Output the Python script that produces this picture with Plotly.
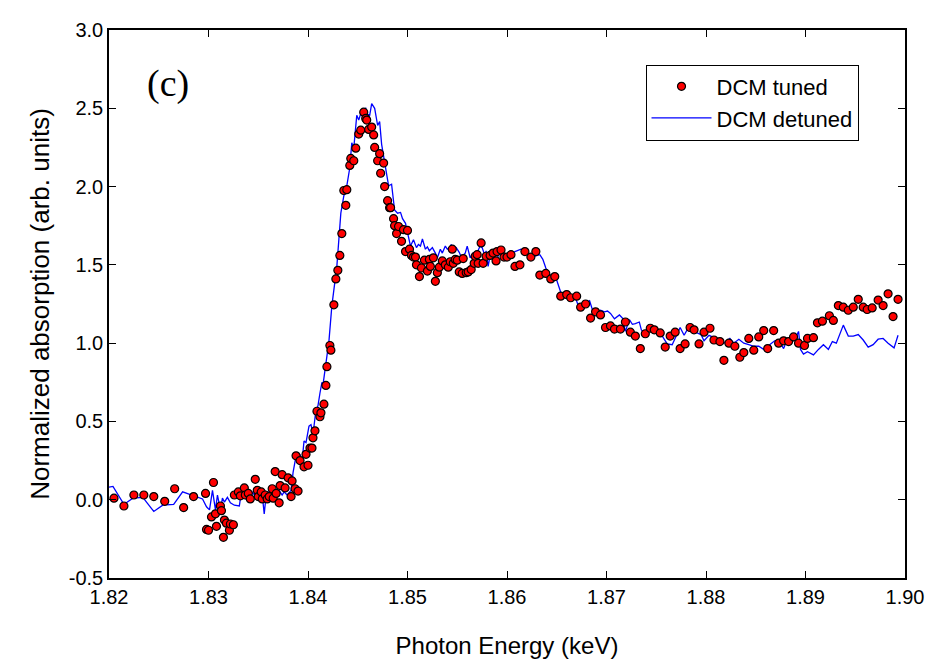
import plotly.graph_objects as go

tuned_x = [1.8205,1.8215,1.8225,1.8235,1.8245,1.8256,1.8266,1.8275,1.8285,1.8297,1.8298,1.8300,1.8303,1.8305,1.8307,1.8308,1.8312,1.8313,1.8315,1.8316,1.8318,1.8321,1.8322,1.8325,1.8326,1.8330,1.8332,1.8336,1.8337,1.8340,1.8342,1.8347,1.8349,1.8350,1.8353,1.8354,1.8357,1.8359,1.8361,1.8364,1.8365,1.8367,1.8368,1.8371,1.8372,1.8374,1.8377,1.8380,1.8383,1.8384,1.8387,1.8388,1.8390,1.8392,1.8396,1.8398,1.8400,1.8402,1.8404,1.8405,1.8407,1.8409,1.8412,1.8413,1.8416,1.8418,1.8419,1.8422,1.8423,1.8426,1.8428,1.8430,1.8432,1.8434,1.8436,1.8438,1.8439,1.8442,1.8443,1.8446,1.8448,1.8451,1.8453,1.8456,1.8458,1.8459,1.8461,1.8464,1.8466,1.8467,1.8470,1.8472,1.8473,1.8476,1.8477,1.8480,1.8482,1.8483,1.8486,1.8487,1.8489,1.8491,1.8494,1.8496,1.8498,1.8500,1.8502,1.8504,1.8506,1.8508,1.8509,1.8512,1.8514,1.8517,1.8520,1.8522,1.8523,1.8526,1.8528,1.8530,1.8532,1.8535,1.8538,1.8541,1.8543,1.8545,1.8546,1.8548,1.8550,1.8552,1.8555,1.8556,1.8559,1.8561,1.8564,1.8567,1.8568,1.8570,1.8571,1.8574,1.8576,1.8579,1.8583,1.8586,1.8589,1.8590,1.8594,1.8597,1.8600,1.8604,1.8608,1.8613,1.8618,1.8624,1.8629,1.8633,1.8639,1.8644,1.8648,1.8654,1.8660,1.8664,1.8670,1.8674,1.8679,1.8684,1.8689,1.8694,1.8699,1.8704,1.8708,1.8714,1.8719,1.8724,1.8729,1.8734,1.8739,1.8744,1.8748,1.8754,1.8759,1.8764,1.8769,1.8774,1.8779,1.8784,1.8788,1.8793,1.8798,1.8804,1.8808,1.8814,1.8818,1.8823,1.8829,1.8834,1.8838,1.8843,1.8848,1.8853,1.8858,1.8862,1.8868,1.8873,1.8878,1.8883,1.8888,1.8893,1.8899,1.8902,1.8908,1.8912,1.8917,1.8924,1.8928,1.8933,1.8938,1.8943,1.8948,1.8953,1.8958,1.8962,1.8967,1.8973,1.8978,1.8983,1.8988,1.8993]
tuned_y = [0.01,-0.04,0.03,0.03,0.02,-0.01,0.07,-0.05,0.02,0.04,-0.19,-0.195,-0.11,0.11,-0.09,-0.17,-0.04,-0.07,-0.24,-0.13,-0.15,-0.195,-0.155,-0.16,0.03,0.05,0.025,0.075,0.03,0.04,0.005,0.13,0.06,0.02,0.05,0.005,0.03,0.005,0.02,0.07,0.01,0.18,0.04,-0.02,0.09,0.16,0.075,0.14,0.02,0.12,0.07,0.28,0.055,0.25,0.21,0.29,0.22,0.33,0.33,0.395,0.44,0.565,0.53,0.555,0.61,0.73,0.85,0.985,0.955,1.245,1.41,1.465,1.56,1.70,1.975,1.88,1.98,2.135,2.18,2.165,2.245,2.335,2.36,2.475,2.435,2.425,2.365,2.38,2.33,2.25,2.165,2.21,2.085,2.15,2.00,1.91,1.865,1.865,1.795,1.75,1.70,1.745,1.65,1.725,1.585,1.72,1.60,1.56,1.55,1.55,1.50,1.425,1.48,1.53,1.46,1.535,1.49,1.545,1.395,1.45,1.485,1.525,1.50,1.485,1.52,1.60,1.51,1.535,1.53,1.455,1.445,1.54,1.45,1.455,1.47,1.51,1.555,1.565,1.51,1.64,1.51,1.555,1.56,1.575,1.525,1.585,1.595,1.55,1.55,1.565,1.49,1.50,1.585,1.55,1.585,1.435,1.445,1.41,1.425,1.30,1.31,1.29,1.30,1.23,1.25,1.16,1.20,1.18,1.10,1.11,1.09,1.09,1.135,1.07,1.045,0.965,1.06,1.095,1.085,1.065,0.975,1.045,1.07,0.965,0.995,1.10,1.085,0.995,1.07,1.095,1.02,1.01,0.89,1.00,0.98,0.91,0.94,1.03,0.955,1.04,1.08,0.965,1.08,1.00,1.015,1.01,1.04,1.00,0.985,1.03,1.035,1.13,1.14,1.175,1.145,1.24,1.23,1.21,1.23,1.28,1.23,1.215,1.225,1.275,1.24,1.315,1.17,1.28]

detuned_x = [1.8200,1.8204,1.8215,1.8224,1.8234,1.8245,1.8254,1.8265,1.8274,1.8284,1.8294,1.8298,1.8301,1.8304,1.8307,1.8309,1.8312,1.8314,1.8316,1.8319,1.8322,1.8326,1.8331,1.8333,1.8334,1.8336,1.8338,1.8339,1.8342,1.8344,1.8346,1.8348,1.8351,1.8354,1.8356,1.8358,1.8360,1.8363,1.8365,1.8368,1.8371,1.8374,1.8376,1.8379,1.8383,1.8385,1.8388,1.8390,1.8392,1.8394,1.8396,1.8398,1.8401,1.8403,1.8405,1.8408,1.8410,1.8412,1.8414,1.8415,1.8418,1.8421,1.8424,1.8429,1.8433,1.8436,1.8439,1.8442,1.8444,1.8446,1.8449,1.8451,1.8454,1.8458,1.8459,1.8462,1.8464,1.8467,1.8470,1.8472,1.8474,1.8478,1.8481,1.8484,1.8487,1.8490,1.8493,1.8495,1.8498,1.8503,1.8506,1.8509,1.8511,1.8513,1.8515,1.8518,1.8520,1.8522,1.8525,1.8528,1.8530,1.8533,1.8535,1.8538,1.8540,1.8543,1.8544,1.8547,1.8549,1.8552,1.8554,1.8558,1.8560,1.8563,1.8566,1.8569,1.8573,1.8575,1.8578,1.8579,1.8581,1.8584,1.8585,1.8588,1.8591,1.8593,1.8596,1.8599,1.8603,1.8608,1.8614,1.8619,1.8624,1.8628,1.8633,1.8636,1.8639,1.8642,1.8644,1.8648,1.8651,1.8654,1.8658,1.8661,1.8664,1.8668,1.8671,1.8674,1.8678,1.8683,1.8686,1.8689,1.8694,1.8698,1.8701,1.8704,1.8708,1.8713,1.8716,1.8719,1.8723,1.8726,1.8729,1.8733,1.8735,1.8738,1.8741,1.8744,1.8748,1.8751,1.8754,1.8758,1.8761,1.8766,1.8769,1.8774,1.8778,1.8781,1.8786,1.8791,1.8795,1.8798,1.8803,1.8808,1.8813,1.8818,1.8824,1.8828,1.8833,1.8838,1.8843,1.8848,1.8853,1.8858,1.8864,1.8869,1.8873,1.8878,1.8882,1.8886,1.8889,1.8893,1.8895,1.8898,1.8902,1.8908,1.8913,1.8918,1.8923,1.8927,1.8931,1.8938,1.8943,1.8948,1.8953,1.8958,1.8963,1.8968,1.8973,1.8978,1.8983,1.8989,1.8993]
detuned_y = [0.08,0.085,-0.03,0.01,0.015,-0.075,-0.035,-0.03,0.05,0.025,0.005,-0.045,-0.065,0.06,-0.065,0.03,-0.065,0.01,-0.015,0.015,-0.02,-0.035,-0.04,0.05,0.01,0.06,0.0,0.04,0.02,0.05,0.03,0.06,0.01,0.03,-0.09,0.03,0.05,0.02,0.05,0.01,0.06,0.03,0.05,0.03,0.06,0.175,0.28,0.24,0.29,0.24,0.375,0.365,0.47,0.48,0.415,0.575,0.60,0.68,0.75,0.73,0.855,1.01,1.24,1.49,1.83,1.94,2.005,2.12,2.28,2.245,2.455,2.425,2.485,2.50,2.465,2.455,2.53,2.50,2.39,2.415,2.27,2.12,2.005,2.015,1.85,1.83,1.835,1.795,1.765,1.62,1.66,1.61,1.63,1.62,1.665,1.60,1.615,1.59,1.61,1.575,1.545,1.60,1.575,1.62,1.60,1.61,1.63,1.60,1.61,1.58,1.55,1.575,1.62,1.545,1.575,1.565,1.62,1.61,1.555,1.59,1.49,1.59,1.555,1.575,1.555,1.59,1.545,1.555,1.565,1.585,1.60,1.58,1.545,1.555,1.565,1.535,1.48,1.44,1.42,1.44,1.38,1.325,1.315,1.32,1.285,1.305,1.25,1.22,1.25,1.27,1.21,1.19,1.21,1.20,1.205,1.19,1.155,1.18,1.16,1.075,1.15,1.12,1.125,1.135,1.085,1.06,1.085,1.11,1.105,1.08,1.065,1.025,0.995,0.99,1.035,1.10,1.05,1.085,1.07,1.065,1.055,1.015,1.05,1.035,1.01,1.00,1.03,1.00,1.025,1.00,0.99,0.98,0.98,0.96,0.99,1.015,1.02,0.965,1.03,1.01,1.02,1.075,0.96,0.93,0.945,0.925,0.96,0.99,0.96,1.01,1.00,1.115,1.045,1.045,1.055,1.02,0.975,0.99,1.025,1.03,1.00,0.97,1.05]

x_ticks = [1.82,1.83,1.84,1.85,1.86,1.87,1.88,1.89,1.90]
x_ticklabels = ["1.82","1.83","1.84","1.85","1.86","1.87","1.88","1.89","1.90"]
y_ticks = [-0.5,0.0,0.5,1.0,1.5,2.0,2.5,3.0]
y_ticklabels = ["-0.5","0.0","0.5","1.0","1.5","2.0","2.5","3.0"]

FONT = "Liberation Sans, Arial, sans-serif"

fig = go.Figure()
fig.add_trace(go.Scatter(
    x=detuned_x, y=detuned_y, mode="lines", name="DCM detuned",
    line=dict(color="#0000ff", width=1.3)))
fig.add_trace(go.Scatter(
    x=tuned_x, y=tuned_y, mode="markers", name="DCM tuned",
    marker=dict(color="#ff0000", size=8, line=dict(color="black", width=1.2))))

axis_common = dict(showline=True, linecolor="black", linewidth=1.5, mirror="ticks",
                   ticks="inside", ticklen=7, tickwidth=1, tickcolor="black",
                   showgrid=False, zeroline=False,
                   tickfont=dict(family=FONT, size=20, color="black"))

fig.update_xaxes(range=[1.82, 1.90], tickvals=x_ticks, ticktext=x_ticklabels,
                 title=dict(text="Photon Energy (keV)", standoff=30,
                            font=dict(family=FONT, size=24, color="black")),
                 **axis_common)
fig.update_yaxes(range=[-0.5, 3.0], tickvals=y_ticks, ticktext=y_ticklabels,
                 title=dict(text="Normalized absorption (arb. units)", standoff=12,
                            font=dict(family=FONT, size=26, color="black")),
                 **axis_common)

# page body has an 8px margin; figure size/margins compensate so the plot area
# lands at x 109..909, y 19..578 in the window
fig.update_layout(
    width=927, height=661,
    margin=dict(l=101, r=26, t=11, b=91),
    plot_bgcolor="white", paper_bgcolor="white",
    showlegend=True,
    legend=dict(x=0.674, y=0.937, xanchor="left", yanchor="top",
                bordercolor="black", borderwidth=1, bgcolor="white",
                traceorder="reversed", itemwidth=60,
                font=dict(family=FONT, size=22, color="black")),
    annotations=[dict(text="(c)", x=0.045, y=0.945, xref="paper", yref="paper",
                      xanchor="left", yanchor="top", showarrow=False,
                      font=dict(family="Liberation Serif, Times New Roman, serif", size=38, color="black"))],
)

fig.write_html("out.html")
